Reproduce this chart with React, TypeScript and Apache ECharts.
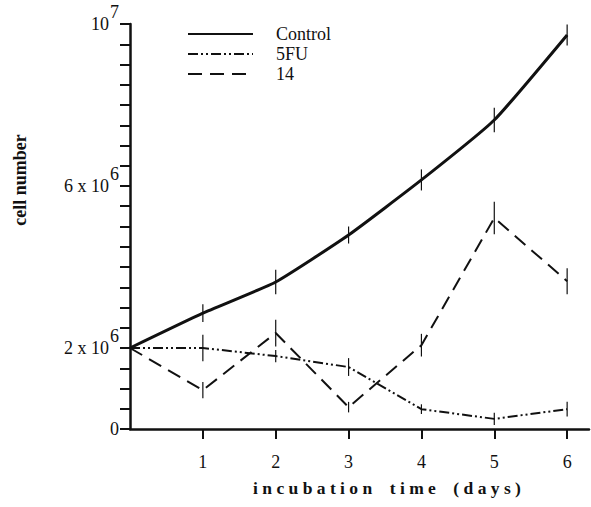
import React, { useEffect, useRef } from "react";
import * as echarts from "echarts";

const days = [0, 1, 2, 3, 4, 5, 6];
const controlValues = [2.0e6, 2.86e6, 3.63e6, 4.79e6, 6.15e6, 7.63e6, 9.73e6];
const controlErrors = [0, 0.22e6, 0.3e6, 0.21e6, 0.26e6, 0.3e6, 0.26e6];
const fuValues = [2.0e6, 2.0e6, 1.8e6, 1.53e6, 0.49e6, 0.25e6, 0.49e6];
const fuErrors = [0, 0.33e6, 0.15e6, 0.22e6, 0.12e6, 0.15e6, 0.18e6];
const c14Values = [2.0e6, 0.96e6, 2.37e6, 0.54e6, 2.07e6, 5.21e6, 3.65e6];
const c14Errors = [0, 0.2e6, 0.33e6, 0.13e6, 0.28e6, 0.4e6, 0.32e6];
const seriesNames = ["Control", "5FU", "14"];
const xTickValues = [1, 2, 3, 4, 5, 6];
const yLabelValues = [0, 2e6, 6e6, 1e7];
const xTitle = "incubation time (days)";
const yTitle = "cell number";

const FONT = "'Liberation Serif', 'DejaVu Serif', serif";

function spaced(s: string) {
  return s
    .split(" ")
    .map((w) => w.split("").join(" "))
    .join("    ");
}

function yLabel(v: number) {
  if (v === 0) return "{n|0}";
  if (v === 1e7) return "{n|10}{s|7}";
  const m = Math.round(v / 1e6);
  return `{n|${m} x 10}{s|6}`;
}

export default function App() {
  const ref = useRef<HTMLDivElement>(null);
  useEffect(() => {
    if (!ref.current) return;
    const chart = echarts.init(ref.current, null, { renderer: "svg" });
    const lineData = (vals: number[]) => days.map((d, i) => [d, vals[i]]);
    const errData = (vals: number[], errs: number[]) =>
      days
        .map((d, i) => [d, vals[i] - errs[i], vals[i] + errs[i]])
        .filter((_, i) => errs[i] > 0);
    const errSeries = (vals: number[], errs: number[]) => ({
      type: "custom",
      data: errData(vals, errs),
      encode: { x: 0, y: [1, 2] },
      silent: true,
      z: 5,
      renderItem: (params: any, api: any) => {
        const x = api.value(0);
        const p1 = api.coord([x, api.value(1)]);
        const p2 = api.coord([x, api.value(2)]);
        return {
          type: "line",
          shape: { x1: p1[0], y1: p1[1], x2: p2[0], y2: p2[1] },
          style: { stroke: "#111", lineWidth: 1.2 },
        };
      },
    });
    const option: any = {
      animation: false,
      backgroundColor: "#fff",
      grid: { left: 130, right: 2, top: 24, bottom: 78 },
      legend: {
        orient: "vertical",
        left: 182,
        top: 20,
        itemWidth: 65,
        itemHeight: 14,
        itemGap: 2,
        data: seriesNames,
        itemStyle: { color: "rgba(0,0,0,0)", borderWidth: 0, opacity: 0 },
        textStyle: {
          fontFamily: FONT,
          fontSize: 18,
          color: "#111",
          padding: [0, 0, 0, 18],
        },
      },
      xAxis: {
        type: "value",
        min: 0,
        max: 6.3,
        interval: 1,
        splitLine: { show: false },
        axisLine: { show: true, onZero: false, lineStyle: { color: "#111", width: 2.5 } },
        axisTick: {
          show: true,
          length: 10,
          customValues: xTickValues,
          lineStyle: { color: "#111", width: 2 },
        },
        axisLabel: {
          customValues: xTickValues,
          margin: 24,
          fontFamily: FONT,
          fontSize: 18,
          color: "#111",
        },
      },
      yAxis: {
        type: "value",
        min: 0,
        max: 1e7,
        interval: 5e5,
        splitLine: { show: false },
        axisLine: { show: true, lineStyle: { color: "#111", width: 2.5 } },
        axisTick: { show: true, length: 10, lineStyle: { color: "#111", width: 2 } },
        axisLabel: {
          customValues: yLabelValues,
          margin: 11,
          formatter: (v: number) => yLabel(v),
          rich: {
            n: { fontFamily: FONT, fontSize: 18, color: "#111" },
            s: {
              fontFamily: FONT,
              fontSize: 18,
              color: "#111",
              padding: [0, 0, 24, 1],
            },
          },
        },
      },
      graphic: [
        {
          type: "text",
          x: 20,
          y: 180,
          rotation: Math.PI / 2,
          style: {
            text: yTitle,
            fontFamily: FONT,
            fontSize: 18,
            fontWeight: "bold",
            fill: "#111",
            align: "center",
            verticalAlign: "middle",
          },
        },
        {
          type: "text",
          x: 387,
          y: 488,
          style: {
            text: spaced(xTitle),
            fontFamily: FONT,
            fontSize: 17.5,
            fontWeight: "bold",
            fill: "#111",
            align: "center",
            verticalAlign: "middle",
          },
        },
      ],
      series: [
        {
          name: seriesNames[0],
          type: "line",
          data: lineData(controlValues),
          symbol: "none",
          smooth: 0.15,
          lineStyle: { color: "#111", width: 3, type: "solid" },
          itemStyle: { color: "#111" },
          z: 3,
        },
        {
          name: seriesNames[1],
          type: "line",
          data: lineData(fuValues),
          symbol: "none",
          lineStyle: { color: "#111", width: 2, type: [10, 3, 2, 3, 2, 3] },
          itemStyle: { color: "#111" },
          z: 3,
        },
        {
          name: seriesNames[2],
          type: "line",
          data: lineData(c14Values),
          symbol: "none",
          lineStyle: { color: "#111", width: 2, type: [14, 8] },
          itemStyle: { color: "#111" },
          z: 3,
        },
        errSeries(controlValues, controlErrors),
        errSeries(fuValues, fuErrors),
        errSeries(c14Values, c14Errors),
      ],
    };
    chart.setOption(option);
    return () => chart.dispose();
  }, []);
  return (
    <div
      ref={ref}
      style={{ position: "fixed", left: 0, top: 0, width: 591, height: 507, background: "#fff" }}
    />
  );
}
